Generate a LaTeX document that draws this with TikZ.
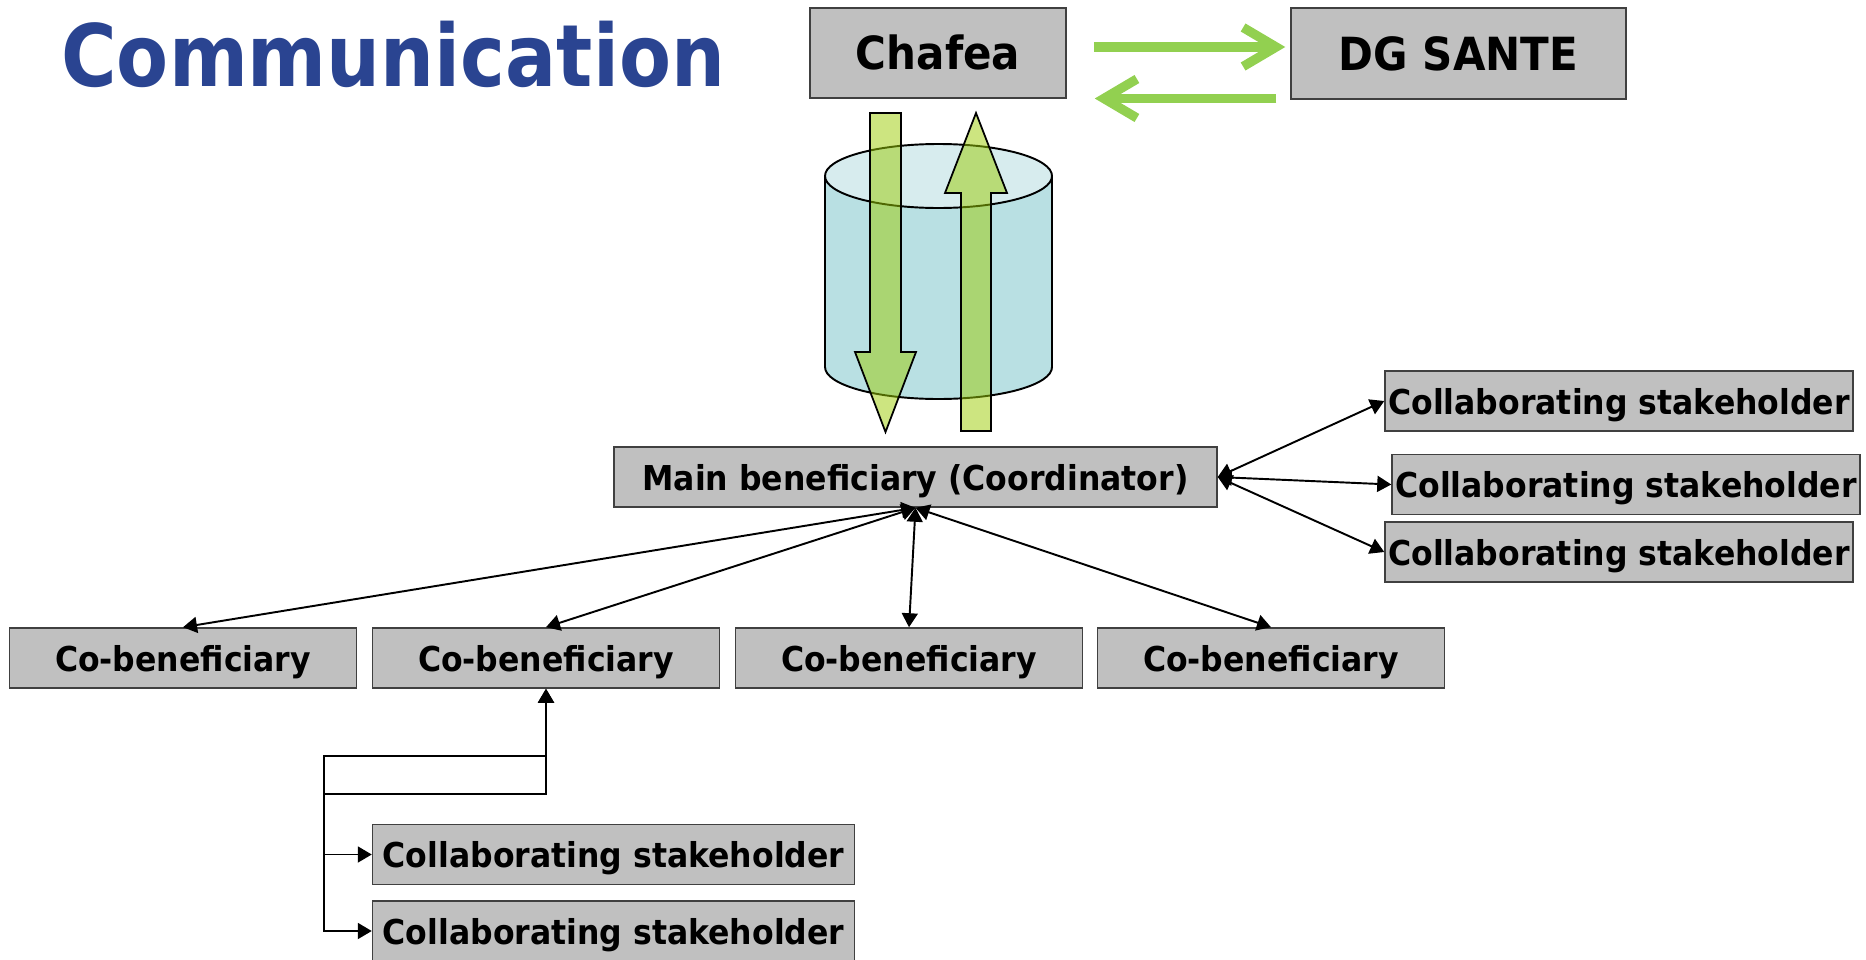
\documentclass[tikz,border=0pt]{standalone}
\usepackage{fontspec}
\setmainfont{DejaVu Sans}[FakeStretch=0.92]
\newfontfamily\titlefont{DejaVu Sans}[FakeStretch=0.88]
\usetikzlibrary{arrows.meta,calc}
\definecolor{titleblue}{RGB}{42,68,145}
\definecolor{boxgray}{RGB}{192,192,192}
\definecolor{flowgreen}{RGB}{146,208,80}
\definecolor{cylside}{RGB}{185,224,227}
\definecolor{cyltop}{RGB}{215,236,238}
\definecolor{blockgreen}{RGB}{156,204,6}
\tikzset{
  box/.style={draw=black!75, line width=0.9pt, fill=boxgray, inner sep=0pt,
    font=\fontsize{19.5}{22}\selectfont\bfseries, minimum height=1.2cm,
    text height=18.8pt, text depth=4pt},
  bigbox/.style={box, font=\fontsize{26}{30}\selectfont\bfseries,
    text height=19pt, text depth=0pt},
  link/.style={line width=1.1pt,
    {Triangle[width=0.32cm,length=0.28cm]}-{Triangle[width=0.32cm,length=0.28cm]}},
  flow/.style={flowgreen, line width=5.3pt, -{Straight Barb[length=0.66cm,width=0.78cm]}},
  blockarrow/.style={draw=black, line width=1pt, fill=blockgreen, fill opacity=0.51},
}
\begin{document}
\begin{tikzpicture}[x=0.02cm,y=0.02cm]
\useasboundingbox (0,0) rectangle (1866,-960);
% title
\node[anchor=base west, inner sep=0pt, text=titleblue,
  font=\titlefont\fontsize{49}{56}\selectfont\bfseries] (title) at (61,-86) {Communication};
% database
\fill[cylside] (825,-176) -- (825,-367) arc[start angle=180,end angle=360,x radius=113.5,y radius=32] -- (1052,-176) -- cycle;
\draw[line width=1.1pt] (825,-176) -- (825,-367) arc[start angle=180,end angle=360,x radius=113.5,y radius=32] -- (1052,-176);
\draw[line width=1.1pt, fill=cyltop] (938.5,-176) ellipse [x radius=113.5, y radius=32];
% down and up
\draw[blockarrow] (870,-113) -- (901,-113) -- (901,-352) -- (916,-352) -- (885.5,-432) -- (855,-352) -- (870,-352) -- cycle;
\draw[blockarrow] (961,-431) -- (991,-431) -- (991,-193) -- (1007,-193) -- (976,-113) -- (945,-193) -- (961,-193) -- cycle;
% boxes
\node[bigbox, minimum width=5.12cm, minimum height=1.8cm] (chafea) at (938,-53) {Chafea};
\node[bigbox, minimum width=6.7cm, minimum height=1.82cm] (dgsante) at (1458.5,-53.5) {DG SANTE};
\node[box, minimum width=12.06cm] (main) at (915.5,-477) {Main beneficiary (Coordinator)};
\node[box, minimum width=9.36cm] (stk1) at (1619,-401) {Collaborating stakeholder};
\node[box, minimum width=9.36cm] (stk2) at (1626,-484.5) {Collaborating stakeholder};
\node[box, minimum width=9.36cm] (stk3) at (1619,-552) {Collaborating stakeholder};
\node[box, minimum width=6.94cm] (cob1) at (183,-658) {Co-beneficiary};
\node[box, minimum width=6.94cm] (cob2) at (546,-658) {Co-beneficiary};
\node[box, minimum width=6.94cm] (cob3) at (909,-658) {Co-beneficiary};
\node[box, minimum width=6.94cm] (cob4) at (1271,-658) {Co-beneficiary};
\node[box, minimum width=9.64cm] (sub1) at (613.5,-854.5) {Collaborating stakeholder};
\node[box, minimum width=9.64cm] (sub2) at (613.5,-931) {Collaborating stakeholder};
% Chafea <-> DG SANTE
\draw[flow] ($(chafea.east)+(27,6)$) -- ($(dgsante.west)+(-5,6.5)$);
\draw[flow] ($(dgsante.west)+(-14,-45)$) -- ($(chafea.east)+(28,-45.5)$);
% links
\draw[link] (main.south) -- (cob1.north);
\draw[link] (main.south) -- (cob2.north);
\draw[link] (main.south) -- (cob3.north);
\draw[link] (main.south) -- (cob4.north);
\draw[link] (main.east) -- (stk1.west);
\draw[link] (main.east) -- (stk2.west);
\draw[link] (main.east) -- (stk3.west);
\coordinate (j1) at (324,-756);
\coordinate (j2) at (324,-794);
\draw[link] (cob2.south) |- (j1) |- (sub1.west);
\draw[link] (cob2.south) |- (j2) |- (sub2.west);
\end{tikzpicture}
\end{document}
